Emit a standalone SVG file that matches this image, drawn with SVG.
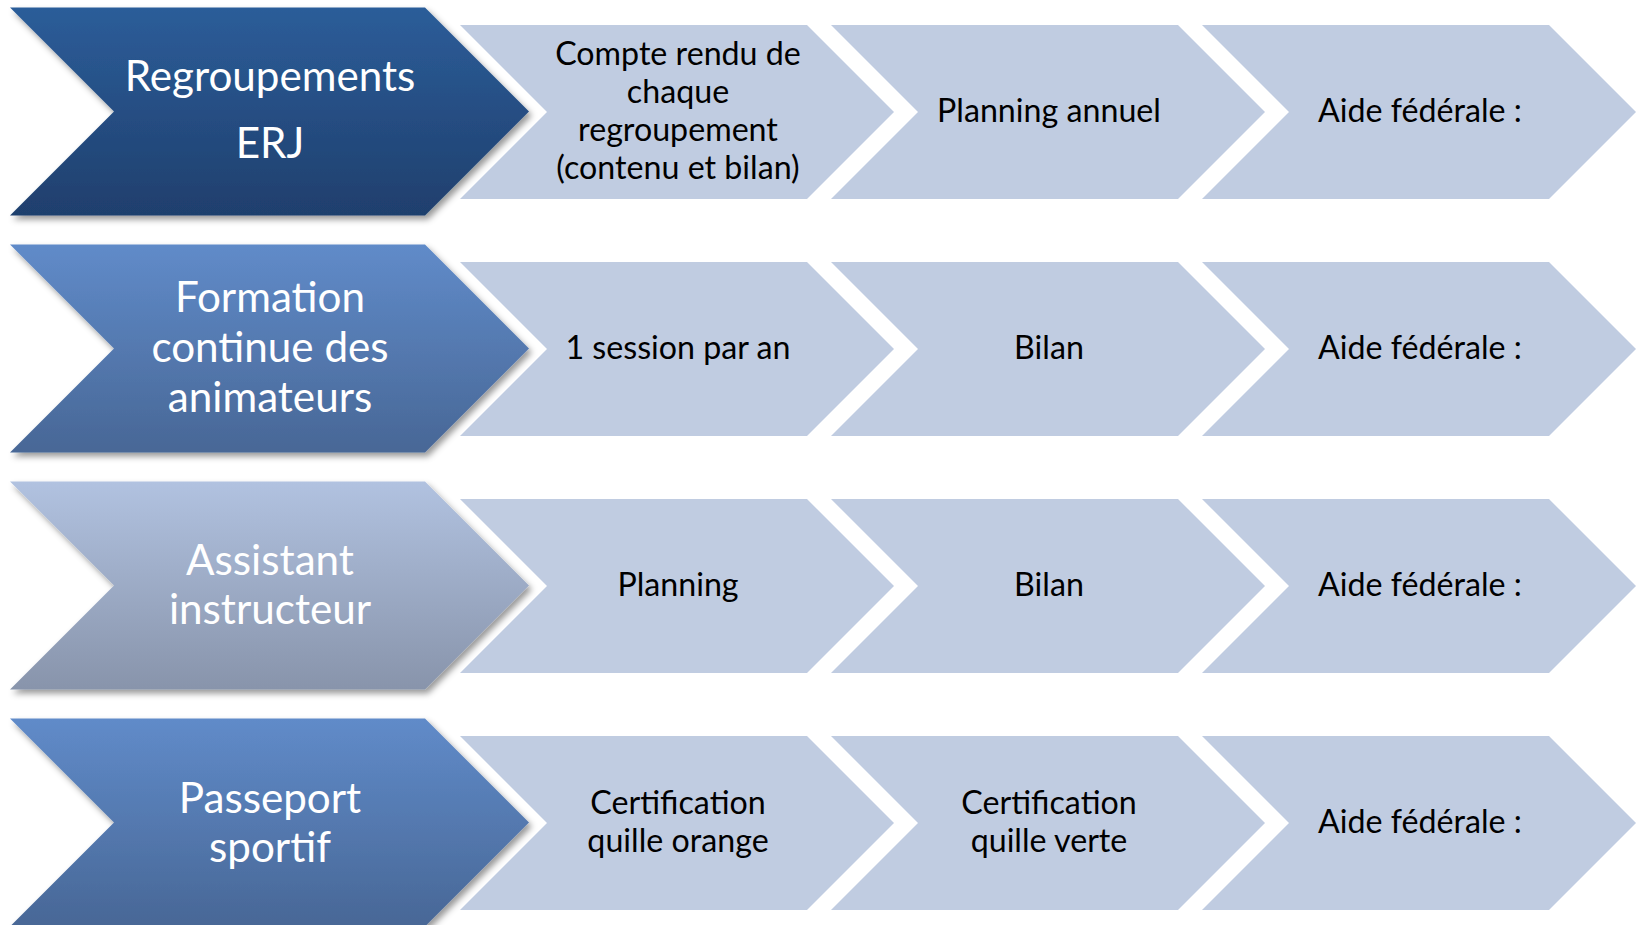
<svg xmlns="http://www.w3.org/2000/svg" width="1636" height="925" viewBox="0 0 1636 925">
  <defs>
    <linearGradient id="g1" x1="0" y1="0" x2="0" y2="1">
      <stop offset="0" stop-color="#2C5D99"/>
      <stop offset="1" stop-color="#1F3F6D"/>
    </linearGradient>
    <linearGradient id="g2" x1="0" y1="0" x2="0" y2="1">
      <stop offset="0" stop-color="#608BC9"/>
      <stop offset="1" stop-color="#486796"/>
    </linearGradient>
    <linearGradient id="g3" x1="0" y1="0" x2="0" y2="1">
      <stop offset="0" stop-color="#B1C2E0"/>
      <stop offset="1" stop-color="#8894AB"/>
    </linearGradient>
    <filter id="sh" x="-5%" y="-5%" width="115%" height="120%">
      <feDropShadow dx="3" dy="4" stdDeviation="3" flood-color="#000" flood-opacity="0.4"/>
    </filter>
    <style>
      .lc { fill: #C0CCE1; }
      .mt { fill: #FFFFFF; font-family: Lato, "Liberation Sans", sans-serif; font-size: 42.2px; text-anchor: middle; }
      .lt { fill: #000000; font-family: Lato, "Liberation Sans", sans-serif; font-size: 32.2px; text-anchor: middle; }
    </style>
  </defs>
  <rect width="1636" height="925" fill="#FFFFFF"/>

  <!-- Row 1 -->
  <g id="main-regroupements">
    <path d="M10,7.5 L425,7.5 L529,111.5 L425,215.5 L10,215.5 L114,111.5 Z" fill="url(#g1)" filter="url(#sh)"/>
    <text class="mt" x="270" y="91">Regroupements</text>
    <text class="mt" x="270" y="158">ERJ</text>
  </g>
  <g id="r1c1">
    <path class="lc" d="M460,25 L807,25 L894,112 L807,199 L460,199 L547,112 Z"/>
    <text class="lt" x="678" y="65">Compte rendu de</text>
    <text class="lt" x="678" y="103">chaque</text>
    <text class="lt" x="678" y="141">regroupement</text>
    <text class="lt" x="678" y="179">(contenu et bilan)</text>
  </g>
  <g id="r1c2">
    <path class="lc" d="M831,25 L1178,25 L1265,112 L1178,199 L831,199 L918,112 Z"/>
    <text class="lt" x="1049" y="122">Planning annuel</text>
  </g>
  <g id="r1c3">
    <path class="lc" d="M1202,25 L1549,25 L1636,112 L1549,199 L1202,199 L1289,112 Z"/>
    <text class="lt" x="1420" y="122">Aide fédérale :</text>
  </g>

  <!-- Row 2 -->
  <g id="main-formation">
    <path d="M10,244.5 L425,244.5 L529,348.5 L425,452.5 L10,452.5 L114,348.5 Z" fill="url(#g2)" filter="url(#sh)"/>
    <text class="mt" x="270" y="312">Formation</text>
    <text class="mt" x="270" y="362">continue des</text>
    <text class="mt" x="270" y="412">animateurs</text>
  </g>
  <g id="r2c1">
    <path class="lc" d="M460,262 L807,262 L894,349 L807,436 L460,436 L547,349 Z"/>
    <text class="lt" x="678" y="359">1 session par an</text>
  </g>
  <g id="r2c2">
    <path class="lc" d="M831,262 L1178,262 L1265,349 L1178,436 L831,436 L918,349 Z"/>
    <text class="lt" x="1049" y="359">Bilan</text>
  </g>
  <g id="r2c3">
    <path class="lc" d="M1202,262 L1549,262 L1636,349 L1549,436 L1202,436 L1289,349 Z"/>
    <text class="lt" x="1420" y="359">Aide fédérale :</text>
  </g>

  <!-- Row 3 -->
  <g id="main-assistant">
    <path d="M10,481.5 L425,481.5 L529,585.5 L425,689.5 L10,689.5 L114,585.5 Z" fill="url(#g3)" filter="url(#sh)"/>
    <text class="mt" x="270" y="575">Assistant</text>
    <text class="mt" x="270" y="624">instructeur</text>
  </g>
  <g id="r3c1">
    <path class="lc" d="M460,499 L807,499 L894,586 L807,673 L460,673 L547,586 Z"/>
    <text class="lt" x="678" y="596">Planning</text>
  </g>
  <g id="r3c2">
    <path class="lc" d="M831,499 L1178,499 L1265,586 L1178,673 L831,673 L918,586 Z"/>
    <text class="lt" x="1049" y="596">Bilan</text>
  </g>
  <g id="r3c3">
    <path class="lc" d="M1202,499 L1549,499 L1636,586 L1549,673 L1202,673 L1289,586 Z"/>
    <text class="lt" x="1420" y="596">Aide fédérale :</text>
  </g>

  <!-- Row 4 -->
  <g id="main-passeport">
    <path d="M10,718.5 L425,718.5 L529,822.5 L425,926.5 L10,926.5 L114,822.5 Z" fill="url(#g2)" filter="url(#sh)"/>
    <text class="mt" x="270" y="813">Passeport</text>
    <text class="mt" x="270" y="862">sportif</text>
  </g>
  <g id="r4c1">
    <path class="lc" d="M460,736 L807,736 L894,823 L807,910 L460,910 L547,823 Z"/>
    <text class="lt" x="678" y="814">Certification</text>
    <text class="lt" x="678" y="852">quille orange</text>
  </g>
  <g id="r4c2">
    <path class="lc" d="M831,736 L1178,736 L1265,823 L1178,910 L831,910 L918,823 Z"/>
    <text class="lt" x="1049" y="814">Certification</text>
    <text class="lt" x="1049" y="852">quille verte</text>
  </g>
  <g id="r4c3">
    <path class="lc" d="M1202,736 L1549,736 L1636,823 L1549,910 L1202,910 L1289,823 Z"/>
    <text class="lt" x="1420" y="833">Aide fédérale :</text>
  </g>
</svg>
